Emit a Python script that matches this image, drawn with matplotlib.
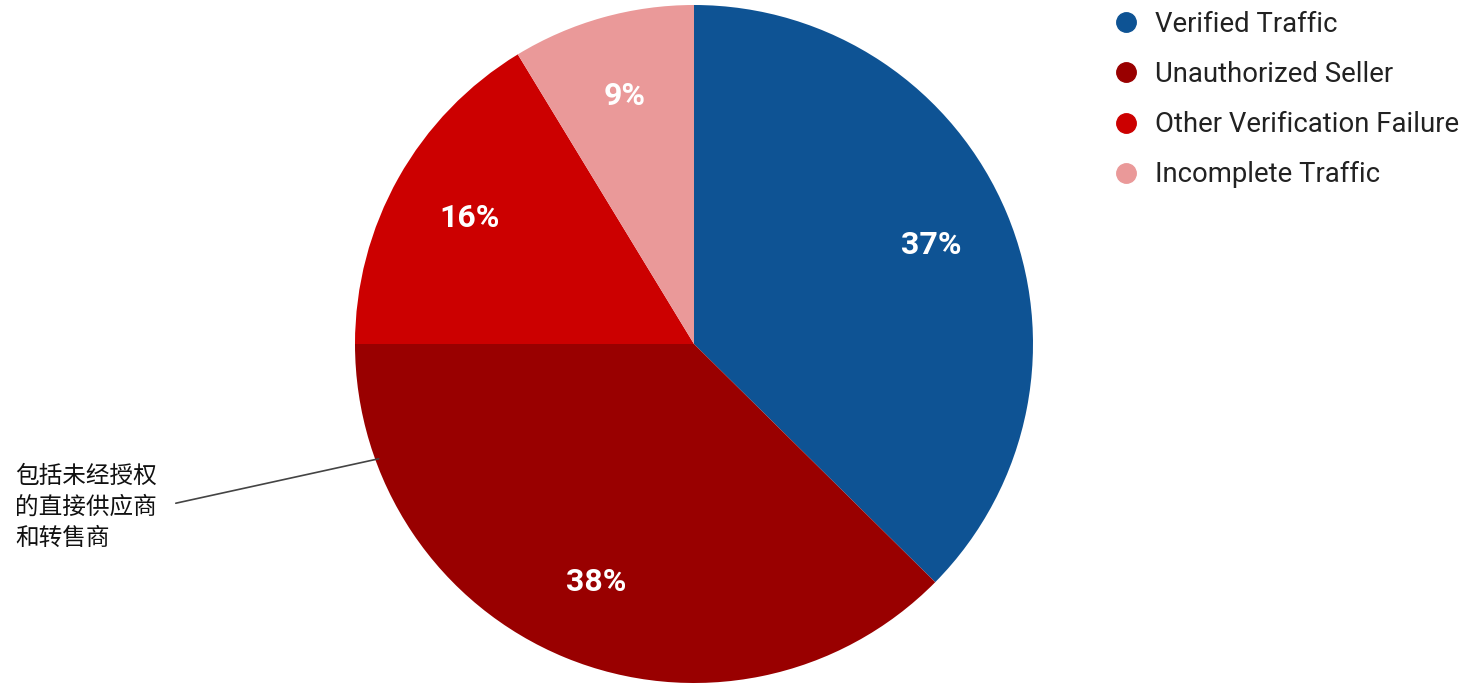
import matplotlib
matplotlib.use('Agg')
import matplotlib.pyplot as plt
from matplotlib.lines import Line2D
import numpy as np

# data
labels = ['Verified Traffic', 'Unauthorized Seller',
          'Other Verification Failure', 'Incomplete Traffic']
shares = [37.4, 37.6, 16.3, 8.7]
colors = ['#0e5394', '#990000', '#cc0000', '#ea9999']
note = '包括未经授权\n的直接供应商\n和转售商'

plt.rcParams['font.family'] = ['Roboto', 'Noto Sans CJK SC', 'DejaVu Sans']

W, H = 1466, 684
fig = plt.figure(figsize=(W / 100, H / 100), dpi=100)

# pie centre and radius in pixels
cx, cy, r = 694, 344, 339
ax = fig.add_axes([(cx - r) / W, (H - cy - r) / H, 2 * r / W, 2 * r / H])

wedges, texts, autotexts = ax.pie(
    shares, colors=colors, startangle=90, counterclock=False,
    autopct='%.0f%%', pctdistance=0.76, radius=1.0,
    wedgeprops={'linewidth': 0},
    textprops={'color': 'white', 'fontsize': 23, 'fontweight': 'bold'})
ax.set_xlim(-1, 1)
ax.set_ylim(-1, 1)
ax.set_aspect('equal')

# note pointing into the Unauthorized Seller wedge
ang = np.deg2rad(-160)
ax.annotate(note, xy=(0.99 * np.cos(ang), 0.99 * np.sin(ang)),
            xytext=(-2.003, -0.482), textcoords='data',
            ha='left', va='center', fontsize=17, linespacing=1.42,
            color='#111111', annotation_clip=False,
            arrowprops=dict(arrowstyle='-', color='#444444', lw=1.2,
                            relpos=(1, 0.5), shrinkA=12, shrinkB=0))

handles = [Line2D([], [], marker='o', linestyle='none', markersize=14,
                  markerfacecolor=c, markeredgecolor=c) for c in colors]
fig.legend(handles, labels, loc='upper left',
           bbox_to_anchor=(1112 / W, 1 - 11 / H), frameon=False,
           fontsize=19.8, labelspacing=0.84, handlelength=1.0,
           handletextpad=0.55, borderpad=0, borderaxespad=0,
           labelcolor='#222222')

fig.savefig('out.png', dpi=100)
